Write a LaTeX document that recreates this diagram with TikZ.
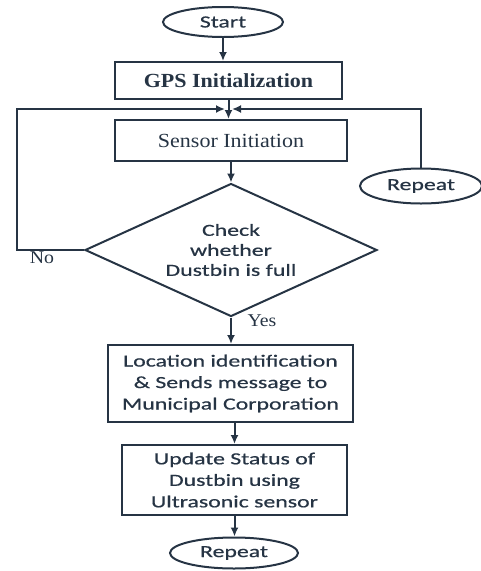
\documentclass[tikz,border=0pt]{standalone}
\usepackage{fontspec}
\setmainfont[FakeStretch=1.1]{Liberation Serif}
\newfontfamily\calfont[FakeStretch=1.4,FakeBold=0.6]{Carlito}
\usetikzlibrary{shapes.geometric,arrows.meta}
\definecolor{ink}{RGB}{38,52,68}
\begin{document}
\begin{tikzpicture}[x=1pt,y=-1pt,
 base/.style={text=ink, draw=ink, line width=2pt, inner sep=0pt},
 term/.style={base, ellipse, font=\calfont\fontsize{17}{20}\selectfont},
 proc/.style={base, rectangle, align=center},
 sproc/.style={proc, font=\calfont\fontsize{17}{21.5}\selectfont},
 decision/.style={base, diamond, aspect=2.2, align=center, font=\calfont\fontsize{17}{20}\selectfont},
 lbl/.style={text=ink, inner sep=0pt, font=\fontsize{18}{20}\selectfont},
 line/.style={draw=ink, line width=2pt},
 arr/.style={line, -{Latex[length=9pt,width=8pt]}}]
\useasboundingbox (0,0) rectangle (480,571);
\node[term, minimum width=120, minimum height=30] (start) at (223,22) {Start};
\node[proc, minimum width=227, minimum height=37, font=\bfseries\fontsize{20}{22}\selectfont] (gps) at (228.5,80.5) {GPS Initialization};
\node[proc, minimum width=232, minimum height=41, font=\fontsize{20}{22}\selectfont] (sensor) at (231,140.5) {Sensor Initiation};
\node[decision, minimum width=292, minimum height=133] (dia) at (231,250) {Check\\whether\\Dustbin is full};
\node[term, minimum width=122, minimum height=35] (rep) at (421,186) {Repeat};
\node[sproc, minimum width=245, minimum height=77] (loc) at (230.5,383.5) {Location identification\\\& Sends message to\\Municipal Corporation};
\node[sproc, minimum width=225, minimum height=70] (upd) at (234.5,480) {Update Status of\\Dustbin using\\Ultrasonic sensor};
\node[term, minimum width=128, minimum height=31] (rep2) at (234,553) {Repeat};
\node[lbl] (no) at (42,258) {No};
\node[lbl] (yes) at (262,321) {Yes};
\coordinate (nl) at (17,109);
\coordinate (ml) at (225,109);
\coordinate (mr) at (232,109);
\draw[arr] (start.south) -- (start.south |- gps.north);
\draw[arr] (gps.south) -- (gps.south |- sensor.north);
\draw[arr] (dia.west) -| (nl) -- (ml);
\draw[arr] (rep.north) |- (mr);
\draw[arr] (dia.north |- sensor.south) -- (dia.north);
\draw[arr] (dia.south) -- (dia.south |- loc.north);
\draw[arr] (loc.south -| upd.north) -- (upd.north);
\draw[arr] (upd.south) -- (upd.south |- rep2.north);
\end{tikzpicture}
\end{document}
